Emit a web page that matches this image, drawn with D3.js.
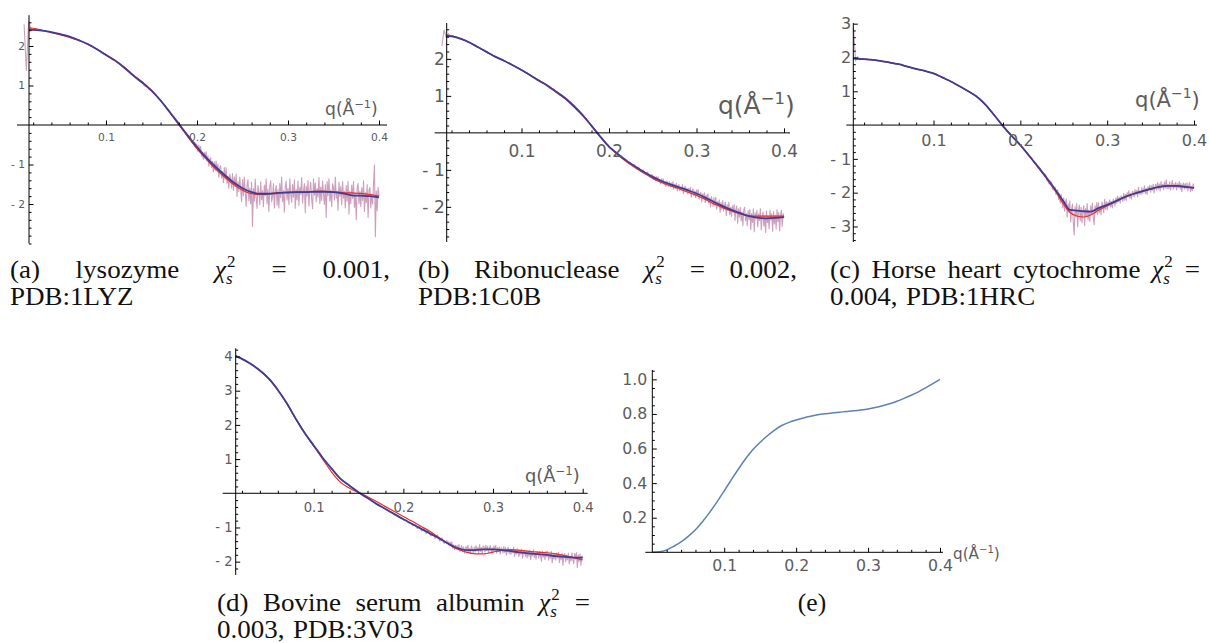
<!DOCTYPE html>
<html><head><meta charset="utf-8">
<script src="https://cdn.jsdelivr.net/npm/d3@7"></script>
<style>
body{margin:0;background:#fff}
svg{display:block}
.tick text{fill:#5c5c5c;font-family:"DejaVu Sans","Liberation Sans",Arial,sans-serif}
.tick line{stroke:#000}
.cap{font-family:"Liberation Serif","Times New Roman",serif;fill:#111}
</style>
</head><body>
<svg id="fig" width="1209" height="643"></svg>
<script>
// ---------- (a) lysozyme ----------
const qA = [0.0154,0.02,0.03,0.04,0.05,0.06,0.07,0.08,0.09,0.10,0.11,0.12,0.13,0.14,0.15,0.16,0.17,0.18,0.19,0.20,0.21,0.22,0.23,0.24,0.25,0.26,0.27,0.28,0.29,0.30,0.31,0.32,0.33,0.34,0.35,0.36,0.37,0.38,0.39,0.40];
const blueA = [2.41,2.41,2.39,2.35,2.30,2.24,2.15,2.05,1.92,1.77,1.63,1.45,1.25,1.07,0.87,0.62,0.33,0.03,-0.27,-0.56,-0.82,-1.05,-1.26,-1.45,-1.60,-1.70,-1.74,-1.74,-1.72,-1.71,-1.70,-1.70,-1.69,-1.69,-1.70,-1.73,-1.78,-1.79,-1.80,-1.83];
const redA = [2.46,2.45,2.40,2.34,2.28,2.22,2.14,2.04,1.92,1.78,1.64,1.47,1.27,1.09,0.88,0.62,0.32,0.01,-0.30,-0.60,-0.86,-1.10,-1.31,-1.50,-1.65,-1.74,-1.76,-1.74,-1.71,-1.70,-1.69,-1.69,-1.68,-1.68,-1.69,-1.71,-1.72,-1.73,-1.76,-1.80];
// measured intensity: coarse low-q segment, then a finely sampled high-q segment
const measA1 = {start: 0.010, step: 0.0025, values: [2.55,1.38,2.62,2.44,2.40,2.43,2.39,2.41,2.38,2.39,
2.36,2.37,2.34,2.34,2.31,2.32,2.29,2.28,2.27,2.24,
2.24,2.21,2.20,2.17,2.16,2.12,2.11,2.07,2.06,2.01,
2.00,1.95,1.93,1.88,1.86,1.80,1.78,1.73,1.71,1.65,
1.63,1.58,1.55,1.49,1.46,1.39,1.37,1.29,1.27,1.19,
1.17,1.10,1.08,0.99,0.98,0.90,0.88,0.80,0.76,0.68,
0.64,0.54,0.50,0.39,0.35,0.24,0.20,0.08,0.05,-0.06,
-0.14,-0.18,-0.30,-0.32,-0.46,-0.44]};
const measA2 = {start: 0.200, step: 0.001, values: [
-0.51,-0.67,-0.51,-0.68,-0.54,-0.79,-0.69,-0.87,-0.69,-0.81,
-0.68,-0.90,-0.78,-1.04,-0.87,-0.83,-1.08,-0.92,-1.19,-0.93,
-1.15,-0.91,-1.14,-0.99,-1.33,-1.08,-1.03,-1.34,-1.17,-1.46,
-1.08,-1.37,-1.08,-1.48,-1.29,-1.60,-1.24,-1.37,-1.60,-1.23,
-1.66,-1.32,-1.56,-1.24,-1.81,-1.43,-1.68,-1.32,-1.63,-1.94,
-1.38,-1.79,-1.32,-1.68,-2.06,-1.53,-1.38,-1.92,-1.60,-2.00,
-1.45,-2.57,-1.61,-1.93,-1.37,-1.84,-2.11,-1.53,-1.70,-2.02,
-1.44,-1.89,-1.66,-2.07,-1.52,-1.79,-1.36,-2.00,-1.62,-2.19,
-1.56,-1.41,-1.94,-1.82,-1.48,-2.10,-1.69,-1.53,-2.03,-1.63,
-2.10,-1.48,-1.84,-1.32,-1.94,-1.66,-2.20,-1.57,-1.42,-1.90,
-1.61,-2.01,-1.36,-1.75,-1.96,-1.51,-1.83,-1.39,-2.11,-1.63,
-1.90,-1.42,-2.03,-1.58,-1.76,-1.33,-1.98,-1.68,-1.48,-2.22,
-1.55,-1.80,-1.40,-2.05,-1.65,-1.45,-1.88,-2.12,-1.36,-1.78,
-1.47,-1.95,-1.61,-1.83,-1.33,-1.99,-1.57,-1.91,-1.41,-1.74,
-2.01,-1.51,-2.34,-1.43,-1.79,-1.36,-1.93,-1.64,-2.07,-1.49,
-1.58,-1.90,-1.32,-1.85,-1.67,-2.16,-1.45,-1.80,-1.56,-2.02,
-1.43,-1.85,-1.68,-2.10,-1.53,-1.93,-1.43,-2.26,-1.67,-1.99,
-1.52,-1.86,-1.43,-2.08,-1.74,-2.40,-1.60,-1.48,-2.00,-1.68,
-2.07,-1.59,-1.91,-1.41,-2.19,-1.71,-1.97,-1.51,-2.34,-1.65,
-1.58,-2.10,-1.75,-2.00,-1.49,-1.01,-2.83,-1.67,-2.17,-1.58,
-1.80]};

// ---------- (b) ribonuclease ----------
const qB = [0.0145,0.02,0.03,0.04,0.05,0.06,0.07,0.08,0.09,0.10,0.11,0.12,0.13,0.14,0.15,0.16,0.17,0.18,0.19,0.20,0.21,0.22,0.23,0.24,0.25,0.26,0.27,0.28,0.29,0.30,0.31,0.32,0.33,0.34,0.35,0.36,0.37,0.38,0.39,0.40];
const blueB = [2.62,2.61,2.55,2.45,2.32,2.19,2.06,1.95,1.83,1.70,1.56,1.41,1.27,1.10,0.93,0.71,0.47,0.19,-0.10,-0.37,-0.57,-0.75,-0.91,-1.06,-1.19,-1.30,-1.39,-1.47,-1.55,-1.64,-1.75,-1.87,-1.98,-2.08,-2.17,-2.25,-2.29,-2.31,-2.30,-2.28];
const redB = [2.64,2.62,2.55,2.45,2.32,2.19,2.06,1.95,1.83,1.70,1.56,1.42,1.28,1.12,0.95,0.74,0.49,0.20,-0.10,-0.38,-0.59,-0.78,-0.94,-1.09,-1.23,-1.34,-1.43,-1.51,-1.60,-1.69,-1.80,-1.92,-2.02,-2.11,-2.19,-2.24,-2.25,-2.25,-2.25,-2.25];
const measB1 = {start: 0.009, step: 0.0025, values: [2.35,2.78,2.58,2.68,2.60,2.63,2.58,2.59,2.54,2.56,
2.50,2.50,2.45,2.44,2.39,2.38,2.32,2.31,2.26,2.25,
2.19,2.18,2.13,2.12,2.06,2.05,2.00,1.99,1.95,1.94,
1.89,1.88,1.83,1.82,1.77,1.76,1.70,1.69,1.63,1.62,
1.56,1.55,1.49,1.47,1.41,1.40,1.34,1.33,1.27,1.26,
1.19,1.17,1.10,1.09,1.02,1.00,0.94,0.91,0.84,0.80,
0.72,0.68,0.60,0.56,0.48,0.44,0.35,0.30,0.21,0.16,
0.07,0.02,-0.08,-0.13,-0.22,-0.30,-0.33,-0.42,-0.43,-0.52,
-0.53,-0.62,-0.62,-0.71,-0.71,-0.80,-0.79,-0.89,-0.86,-0.97,
-0.93,-1.05,-1.00,-1.12,-1.06,-1.19,-1.13]};
const measB2 = {start: 0.250, step: 0.001, values: [
-1.15,-1.26,-1.19,-1.30,-1.18,-1.28,-1.19,-1.32,-1.27,-1.38,
-1.24,-1.35,-1.24,-1.40,-1.31,-1.45,-1.30,-1.34,-1.45,-1.32,
-1.46,-1.35,-1.43,-1.32,-1.52,-1.39,-1.50,-1.36,-1.57,-1.43,
-1.40,-1.57,-1.45,-1.54,-1.40,-1.64,-1.50,-1.44,-1.60,-1.49,
-1.65,-1.50,-1.61,-1.47,-1.74,-1.56,-1.51,-1.69,-1.57,-1.75,
-1.54,-1.70,-1.53,-1.79,-1.64,-1.61,-1.87,-1.65,-1.76,-1.62,
-1.89,-1.68,-1.79,-1.65,-1.90,-1.76,-2.00,-1.72,-1.83,-1.99,
-1.75,-1.96,-1.74,-2.06,-1.86,-1.97,-1.81,-2.15,-1.88,-2.07,
-1.83,-2.11,-1.96,-1.87,-2.24,-1.94,-2.10,-1.88,-2.21,-2.01,
-2.26,-1.97,-2.15,-1.93,-2.37,-2.06,-1.98,-2.44,-2.05,-2.28,
-2.01,-2.38,-2.14,-2.51,-2.08,-2.01,-2.37,-2.18,-2.51,-2.10,
-2.35,-2.07,-2.61,-2.18,-2.42,-2.05,-2.67,-2.16,-2.33,-2.09,
-2.54,-2.19,-2.37,-2.05,-2.62,-2.25,-2.15,-2.52,-2.23,-2.69,
-2.11,-2.43,-2.25,-2.59,-2.09,-2.36,-2.19,-2.66,-2.13,-2.46,
-2.22,-2.60,-2.08,-2.40,-2.15,-2.65,-2.24,-2.09,-2.53,-2.18,
-2.30]};

// ---------- (c) horse heart cytochrome ----------
const qC = [0.0076,0.02,0.03,0.04,0.05,0.06,0.07,0.08,0.09,0.10,0.11,0.12,0.13,0.14,0.15,0.16,0.17,0.18,0.19,0.20,0.21,0.22,0.23,0.24,0.25,0.257,0.265,0.273,0.281,0.29,0.30,0.31,0.32,0.33,0.34,0.35,0.36,0.37,0.38,0.39,0.40];
const blueC = [1.97,1.95,1.93,1.89,1.85,1.80,1.73,1.66,1.60,1.53,1.41,1.29,1.15,1.00,0.84,0.60,0.29,-0.03,-0.32,-0.59,-0.90,-1.22,-1.55,-1.90,-2.27,-2.51,-2.53,-2.55,-2.56,-2.46,-2.36,-2.25,-2.13,-2.04,-1.96,-1.89,-1.83,-1.80,-1.80,-1.83,-1.86];
const redC = [1.97,1.95,1.93,1.89,1.85,1.80,1.73,1.66,1.60,1.53,1.41,1.29,1.15,1.00,0.84,0.60,0.29,-0.03,-0.32,-0.60,-0.91,-1.24,-1.58,-1.94,-2.35,-2.58,-2.69,-2.72,-2.66,-2.52,-2.39,-2.26,-2.13,-2.04,-1.96,-1.89,-1.83,-1.80,-1.80,-1.83,-1.86];
const measC1 = {start: 0.0077, step: 0.0025, values: [2.90,1.90,2.02,1.93,1.97,1.94,1.96,1.93,1.945,1.92,
1.93,1.90,1.91,1.88,1.89,1.86,1.87,1.84,1.85,1.81,
1.82,1.79,1.79,1.75,1.76,1.72,1.72,1.68,1.68,1.64,
1.65,1.62,1.62,1.59,1.59,1.55,1.55,1.52,1.51,1.46,
1.45,1.40,1.39,1.34,1.33,1.28,1.26,1.21,1.19,1.14,
1.12,1.06,1.04,0.99,0.97,0.91,0.89,0.83,0.79,0.71,
0.67,0.59,0.53,0.43,0.38,0.28,0.22,0.12,0.06,-0.04,
-0.09,-0.19,-0.24,-0.33,-0.38,-0.47,-0.52,-0.61,-0.66,-0.77,
-0.81,-0.94,-0.96,-1.10,-1.12,-1.27,-1.28,-1.43,-1.44]};
const measC2 = {start: 0.230, step: 0.001, values: [
-1.51,-1.66,-1.60,-1.75,-1.64,-1.77,-1.69,-1.90,-1.82,-1.93,
-1.83,-2.06,-1.94,-1.92,-2.20,-2.03,-2.31,-2.05,-2.26,-2.45,
-2.15,-2.55,-2.28,-2.19,-2.72,-2.33,-2.57,-2.25,-2.87,-2.49,
-2.34,-2.87,-3.25,-2.41,-2.71,-2.32,-3.01,-2.51,-2.37,-2.84,
-2.44,-2.90,-2.56,-2.38,-2.97,-2.47,-2.72,-2.32,-2.81,-2.52,
-2.85,-2.39,-2.63,-2.31,-2.74,-2.95,-2.39,-2.60,-2.29,-2.65,
-2.30,-2.59,-2.41,-2.66,-2.28,-2.38,-2.59,-2.20,-2.49,-2.26,
-2.51,-2.28,-2.39,-2.21,-2.42,-2.26,-2.45,-2.19,-2.26,-2.39,
-2.15,-2.32,-2.10,-2.27,-2.14,-2.31,-2.09,-2.14,-2.26,-2.02,
-2.22,-2.05,-2.23,-2.00,-2.12,-1.94,-2.16,-2.02,-2.19,-1.96,
-1.98,-2.13,-1.90,-2.06,-1.93,-2.12,-1.84,-2.04,-1.95,-2.06,
-1.85,-2.02,-1.91,-1.80,-2.03,-1.87,-2.05,-1.82,-1.93,-1.78,
-1.99,-1.80,-1.93,-1.75,-2.01,-1.83,-1.75,-1.93,-1.70,-1.90,
-1.74,-1.95,-1.67,-1.85,-1.75,-1.91,-1.68,-1.87,-1.62,-1.89,
-1.75,-1.88,-1.68,-1.93,-1.78,-1.64,-1.90,-1.73,-1.85,-1.69,
-1.92,-1.74,-1.85,-1.67,-1.90,-1.72,-1.97,-1.78,-1.71,-1.90,
-1.73,-1.88,-1.71,-1.95,-1.78,-1.70,-1.97,-1.81,-1.94,-1.74,
-1.86]};

// ---------- (d) bovine serum albumin ----------
const qD = [0.013,0.02,0.03,0.04,0.05,0.06,0.07,0.08,0.09,0.10,0.11,0.12,0.13,0.14,0.15,0.16,0.17,0.18,0.19,0.20,0.21,0.22,0.23,0.24,0.25,0.26,0.27,0.28,0.29,0.30,0.31,0.32,0.33,0.34,0.35,0.36,0.37,0.38,0.39,0.40];
const blueD = [4.01,3.93,3.78,3.59,3.35,3.02,2.63,2.18,1.76,1.40,1.04,0.72,0.42,0.22,0.03,-0.14,-0.31,-0.46,-0.61,-0.76,-0.90,-1.04,-1.18,-1.32,-1.47,-1.60,-1.66,-1.66,-1.64,-1.64,-1.66,-1.69,-1.73,-1.76,-1.78,-1.80,-1.84,-1.86,-1.88,-1.88];
const redD = [4.02,3.93,3.78,3.59,3.35,3.02,2.63,2.18,1.76,1.38,1.00,0.62,0.32,0.15,0.02,-0.10,-0.24,-0.39,-0.53,-0.68,-0.82,-0.97,-1.12,-1.30,-1.48,-1.63,-1.72,-1.77,-1.77,-1.72,-1.67,-1.65,-1.67,-1.70,-1.72,-1.74,-1.77,-1.82,-1.88,-1.95];
const measD1 = {start: 0.013, step: 0.0025, values: [4.02,3.98,3.96,3.91,3.89,3.84,3.82,3.76,3.73,3.67,
3.64,3.57,3.53,3.45,3.41,3.32,3.26,3.16,3.10,2.99,
2.91,2.79,2.72,2.60,2.51,2.37,2.28,2.15,2.06,1.94,
1.85,1.73,1.66,1.55,1.48,1.37,1.30,1.19,1.12,1.01,
0.95,0.85,0.79,0.69,0.64,0.54,0.49,0.40,0.37,0.30,
0.27,0.20,0.17,0.11,0.08,0.01,-0.01,-0.08,-0.10,-0.16,
-0.18,-0.24,-0.27,-0.33,-0.34,-0.40,-0.42,-0.48,-0.50,-0.55,
-0.57,-0.63,-0.64,-0.71,-0.72,-0.79,-0.78,-0.87,-0.85,-0.95,
-0.91,-1.03,-0.97,-1.10,-1.03,-1.18,-1.10,-1.25,-1.17,-1.32,
-1.22,-1.40,-1.30,-1.47,-1.38]};
const measD2 = {start: 0.250, step: 0.001, values: [
-1.42,-1.54,-1.42,-1.54,-1.42,-1.61,-1.51,-1.65,-1.52,-1.63,
-1.52,-1.66,-1.49,-1.70,-1.59,-1.53,-1.70,-1.57,-1.75,-1.60,
-1.56,-1.70,-1.52,-1.73,-1.61,-1.76,-1.54,-1.64,-1.74,-1.57,
-1.72,-1.53,-1.69,-1.58,-1.75,-1.50,-1.70,-1.59,-1.75,-1.54,
-1.57,-1.72,-1.52,-1.68,-1.55,-1.76,-1.59,-1.53,-1.71,-1.60,
-1.72,-1.54,-1.67,-1.52,-1.75,-1.59,-1.70,-1.57,-1.78,-1.59,
-1.61,-1.75,-1.56,-1.73,-1.59,-1.81,-1.64,-1.58,-1.77,-1.63,
-1.79,-1.63,-1.74,-1.58,-1.85,-1.66,-1.78,-1.62,-1.75,-1.85,
-1.65,-1.78,-1.63,-1.90,-1.70,-1.66,-1.85,-1.69,-1.89,-1.69,
-1.84,-1.66,-1.94,-1.72,-1.83,-1.65,-1.88,-1.75,-1.93,-1.70,
-1.72,-1.90,-1.69,-1.84,-1.99,-1.69,-1.87,-1.76,-1.94,-1.69,
-1.86,-1.70,-1.96,-1.77,-1.90,-1.70,-2.04,-1.77,-1.93,-1.76,
-1.96,-1.75,-1.89,-1.72,-2.03,-1.81,-1.94,-1.75,-2.11,-1.80,
-1.76,-2.00,-1.81,-1.95,-1.75,-2.07,-1.84,-1.98,-1.74,-1.94,
-2.06,-1.76,-1.93,-1.73,-2.18,-1.80,-2.00,-1.78,-2.10,-1.83,
-1.88]};

// ---------- (e) weighting curve ----------
const qE = [0,0.01,0.02,0.03,0.04,0.05,0.06,0.07,0.08,0.09,0.10,0.11,0.12,0.13,0.14,0.15,0.16,0.17,0.18,0.19,0.20,0.21,0.22,0.23,0.24,0.25,0.26,0.27,0.28,0.29,0.30,0.31,0.32,0.33,0.34,0.35,0.36,0.37,0.38,0.39,0.40];
const vE = [0,0.003,0.014,0.035,0.06,0.092,0.13,0.178,0.232,0.292,0.355,0.42,0.483,0.542,0.594,0.636,0.674,0.707,0.733,0.751,0.765,0.777,0.787,0.795,0.801,0.806,0.810,0.814,0.818,0.823,0.829,0.837,0.847,0.859,0.873,0.89,0.908,0.928,0.951,0.975,1.0];

// tick values
const xMajor = [0.1, 0.2, 0.3, 0.4];
const yMajorA = [2, 1, -1, -2];
const yMajorB = [2, 1, -1, -2];
const yMajorC = [3, 2, 1, -1, -2, -3];
const yMajorD = [4, 3, 2, 1, -1, -2];
const yMajorE = [0.2, 0.4, 0.6, 0.8, 1.0];

// caption texts
const captionA = [['(a)', 'lysozyme', 'CHI', '=', '0.001,'], ['PDB:1LYZ']];
const captionB = [['(b)', 'Ribonuclease', 'CHI', '=', '0.002,'], ['PDB:1C0B']];
const captionC = [['(c)', 'Horse', 'heart', 'cytochrome', 'CHI', '='], ['0.004,', 'PDB:1HRC']];
const captionD = [['(d)', 'Bovine', 'serum', 'albumin', 'CHI', '='], ['0.003,', 'PDB:3V03']];
const captionE = '(e)';

// ---------- layout ----------
const svg = d3.select('#fig');
const COL_MEAS = '#c796b6', COL_RED = '#ee2a2a', COL_BLUE = '#3f3c92', COL_E = '#5e81b5';
const SANS = '"DejaVu Sans","Liberation Sans",Arial,sans-serif';

// labW: rendered width of the "0.1" tick label; lab.w: width of the axis title
const panels = [
  {q: qA, blue: blueA, red: redA, meas: [measA1, measA2], yTicks: yMajorA,
   xr: [29, 379], qd: [0.0154, 0.4], yr: [243.5, 15.2], vd: [-3.0, 2.78], ext: [12, 8],
   labW: 17, xpad: 8, ypad: 4, lab: {x: 325, y: 115, w: 53}},
  {q: qB, blue: blueB, red: redB, meas: [measB1, measB2], yTicks: yMajorB,
   xr: [446.7, 784], qd: [0.0145, 0.4], yr: [242, 23], vd: [-2.95, 2.97], ext: [12, 6],
   labW: 27, xpad: 12, ypad: 2, lab: {x: 718, y: 114, w: 77}},
  {q: qC, blue: blueC, red: redC, meas: [measC1, measC2], yTicks: yMajorC,
   xr: [853.3, 1194], qd: [0.0076, 0.4], yr: [242, 23], vd: [-3.46, 3.02], ext: [7, 3],
   labW: 25.5, xpad: 10, ypad: 2, lab: {x: 1135, y: 107, w: 65}},
  {q: qD, blue: blueD, red: redD, meas: [measD1, measD2], yTicks: yMajorD,
   xr: [235.7, 582.7], qd: [0.013, 0.4], yr: [575, 348.3], vd: [-2.39, 4.24], ext: [13, 5],
   labW: 21, xpad: 9, ypad: 3, lab: {x: 525, y: 482, w: 55}}
];

function fmtSigned(v) { return v < 0 ? '- ' + Math.abs(v) : String(v); }

// axis title q(Å^-1), sized so that it spans the wanted width
function axisLabel(g, L) {
  const t = g.append('text').attr('x', L.x).attr('y', L.y)
    .attr('font-family', SANS).attr('fill', '#5c5c5c');
  function build(fs) {
    t.selectAll('tspan').remove();
    t.attr('font-size', fs);
    t.append('tspan').text('q(Å');
    t.append('tspan').attr('font-size', fs * 0.66).attr('dy', -fs * 0.42).text('−1');
    t.append('tspan').attr('dy', fs * 0.42).text(')');
  }
  build(10);
  const w = t.node().getBBox().width;
  build(10 * L.w / w);
}

function drawAxes(g, x, y, P, yTicks, yMinorStep, yFmt) {
  const y0 = y(Math.max(0, P.vd[0]));
  const xLeft = x.range()[0];
  g.append('line').attr('x1', xLeft - P.ext[0]).attr('x2', x.range()[1] + P.ext[1])
    .attr('y1', y0).attr('y2', y0).attr('stroke', '#000').attr('stroke-width', 1);
  g.append('line').attr('x1', xLeft).attr('x2', xLeft)
    .attr('y1', y.range()[0]).attr('y2', y.range()[1]).attr('stroke', '#000').attr('stroke-width', 1);

  const xMinor = d3.range(0.02, 0.4001, 0.02)
    .filter(v => v >= x.domain()[0] && Math.abs(v * 10 - Math.round(v * 10)) > 1e-6);
  g.append('g').attr('transform', `translate(0,${y0})`)
    .call(d3.axisBottom(x).tickValues(xMinor).tickSizeInner(-2.5).tickSizeOuter(0).tickFormat(''))
    .call(s => s.select('.domain').remove());
  const gx = g.append('g').attr('transform', `translate(0,${y0})`)
    .call(d3.axisBottom(x).tickValues(xMajor).tickSizeInner(-4.5).tickSizeOuter(0)
      .tickPadding(P.xpad).tickFormat(d3.format('.1f')))
    .call(s => s.select('.domain').remove());

  const lo = Math.ceil(y.domain()[0] / yMinorStep - 1e-9), hi = Math.floor(y.domain()[1] / yMinorStep + 1e-9);
  const yMinor = d3.range(lo, hi + 1).map(k => k * yMinorStep)
    .filter(v => Math.abs(v) > 1e-9 && !yTicks.some(t => Math.abs(t - v) < 1e-9));
  g.append('g').attr('transform', `translate(${xLeft},0)`)
    .call(d3.axisLeft(y).tickValues(yMinor).tickSizeInner(-2.5).tickSizeOuter(0).tickFormat(''))
    .call(s => s.select('.domain').remove());
  const gy = g.append('g').attr('transform', `translate(${xLeft},0)`)
    .call(d3.axisLeft(y).tickValues(yTicks).tickSizeInner(-4.5).tickSizeOuter(0)
      .tickPadding(P.ypad).tickFormat(yFmt))
    .call(s => s.select('.domain').remove());

  // size tick labels from the measured width of the "0.1" label
  const texts = gx.selectAll('text').attr('font-size', 10);
  gy.selectAll('text').attr('font-size', 10);
  const ref = texts.filter(d => Math.abs(d - 0.1) < 1e-9).node();
  const fs = 10 * P.labW / ref.getComputedTextLength();
  gx.selectAll('text').attr('font-size', fs);
  gy.selectAll('text').attr('font-size', fs);
}

panels.forEach(P => {
  const g = svg.append('g');
  const x = d3.scaleLinear().domain(P.qd).range(P.xr);
  const y = d3.scaleLinear().domain(P.vd).range(P.yr);

  const measPts = P.meas.flatMap(seg => seg.values.map((v, i) => [seg.start + i * seg.step, v]));
  const fitLine = d3.line().x(d => x(d[0])).y(d => y(d[1])).curve(d3.curveMonotoneX);
  const rawLine = d3.line().x(d => x(d[0])).y(d => y(d[1]));

  g.append('path').attr('d', rawLine(measPts)).attr('fill', 'none')
    .attr('stroke', COL_MEAS).attr('stroke-width', 1.1).attr('stroke-linejoin', 'round').attr('opacity', 0.9);
  g.append('path').attr('d', fitLine(P.q.map((q, i) => [q, P.red[i]]))).attr('fill', 'none')
    .attr('stroke', COL_RED).attr('stroke-width', 1.2);
  g.append('path').attr('d', fitLine(P.q.map((q, i) => [q, P.blue[i]]))).attr('fill', 'none')
    .attr('stroke', COL_BLUE).attr('stroke-width', 1.8);

  drawAxes(g, x, y, P, P.yTicks, 0.2, fmtSigned);
  axisLabel(g, P.lab);
});

// panel (e)
{
  const P = {xr: [652.3, 940], qd: [0, 0.4], yr: [552.3, 370], vd: [0, 1.054], ext: [7, 3],
             labW: 25, xpad: 8, ypad: 5};
  const g = svg.append('g');
  const x = d3.scaleLinear().domain(P.qd).range(P.xr);
  const y = d3.scaleLinear().domain(P.vd).range(P.yr);
  g.append('path').attr('d', d3.line().x(q => x(q)).y((q, i) => y(vE[i])).curve(d3.curveMonotoneX)(qE))
    .attr('fill', 'none').attr('stroke', COL_E).attr('stroke-width', 1.5);
  drawAxes(g, x, y, P, yMajorE, 0.05, d3.format('.1f'));
  axisLabel(g, {x: 953, y: 559, w: 47});
}

// ---------- captions (justified like a two-column LaTeX subcaption) ----------
const cap = svg.append('g').attr('class', 'cap');
const FS = 25.5, STRETCH = 1.06;

// one token: a word, or the chi^2_s symbol; returns {node, width}
function token(s, y) {
  const g = cap.append('g');
  if (s === 'CHI') {
    const c = g.append('text').attr('y', y).attr('font-size', FS).attr('font-style', 'italic').text('χ');
    const cw = c.node().getComputedTextLength();
    g.append('text').attr('x', cw + 1).attr('y', y - 11).attr('font-size', 17).text('2');
    g.append('text').attr('x', cw).attr('y', y + 6).attr('font-size', 17).attr('font-style', 'italic').text('s');
    return {g, w: cw + 10};
  }
  const t = g.append('text').attr('y', y).attr('font-size', FS).text(s);
  const w0 = t.node().getComputedTextLength();
  t.attr('textLength', w0 * STRETCH).attr('lengthAdjust', 'spacingAndGlyphs');
  return {g, w: w0 * STRETCH};
}
function captionLine(words, x0, x1, y, justify) {
  const toks = words.map(s => token(s, y));
  const total = d3.sum(toks, t => t.w);
  const gap = justify && toks.length > 1 ? (x1 - x0 - total) / (toks.length - 1) : FS * 0.33;
  let x = x0;
  toks.forEach(t => { t.g.attr('transform', `translate(${x},0)`); x += t.w + gap; });
}
function caption(lines, x0, x1, y) {
  captionLine(lines[0], x0, x1, y, true);
  captionLine(lines[1], x0, x1, y + 27, false);
}
caption(captionA, 10, 390, 278);
caption(captionB, 418, 797, 278);
caption(captionC, 830, 1200, 278);
caption(captionD, 217, 590, 611);
{
  const t = cap.append('text').attr('x', 812).attr('y', 611).attr('font-size', FS)
    .attr('text-anchor', 'middle').text(captionE);
}
</script>
</body></html>
